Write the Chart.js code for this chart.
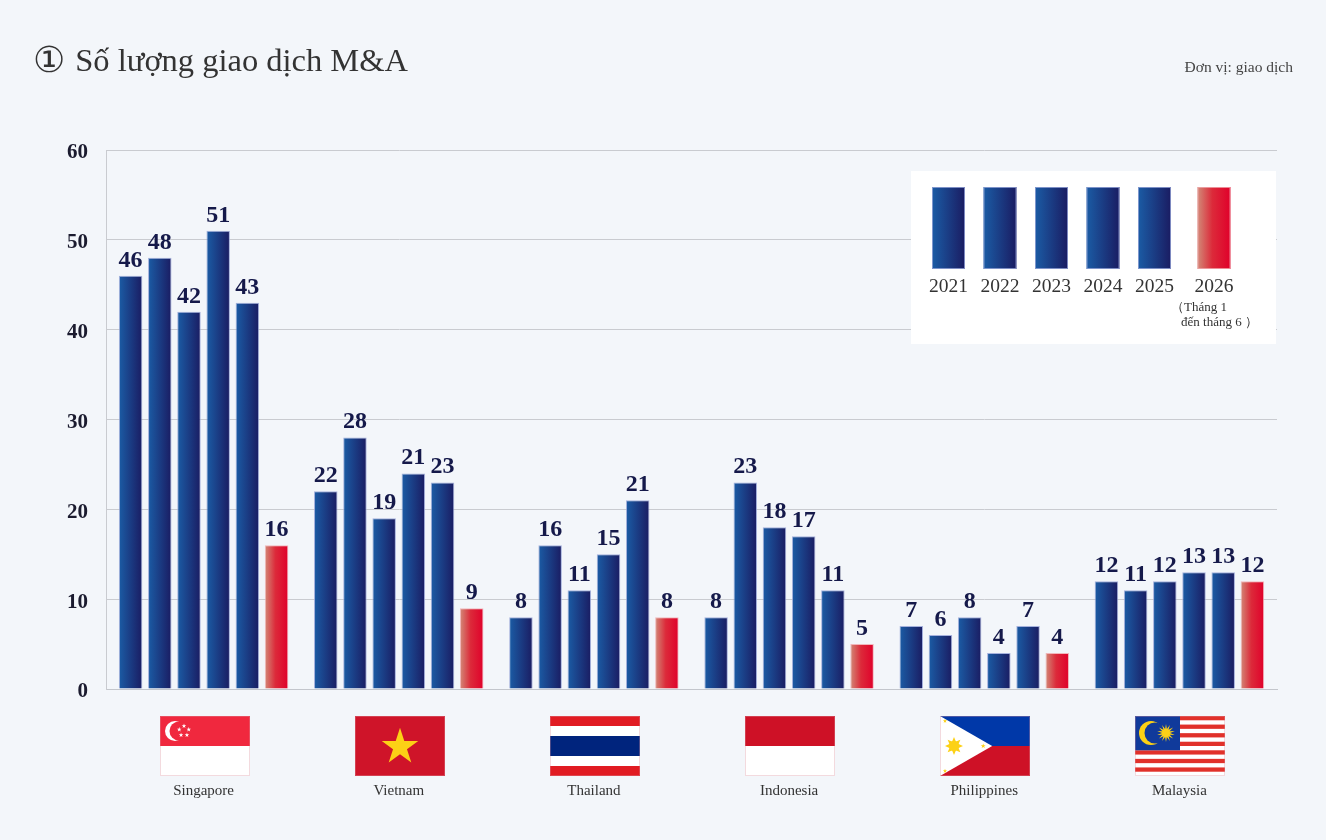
<!DOCTYPE html>
<html lang="vi">
<head>
  <meta charset="UTF-8">
  <title>Số lượng giao dịch M&amp;A</title>
  <script src="https://cdn.jsdelivr.net/npm/chart.js"></script>
  <style>
    html, body { margin: 0; padding: 0; background: #f3f6fa; }
    #wrap { position: relative; width: 1326px; height: 840px; }
    h1 {
      position: absolute; left: 33px; top: 43px; margin: 0;
      font: 400 32.5px/32px 'Liberation Serif', serif; color: #333;
      white-space: nowrap;
    }
    h1 .num {
      font-family: 'DejaVu Sans', sans-serif; font-size: 36px; margin-right: 10px;
      position: relative; top: 1px;
    }
    .unit {
      position: absolute; right: 33px; top: 59px;
      font: 15.5px/16px 'Liberation Serif', serif; color: #444;
    }
    canvas { position: absolute; left: 0; top: 0; }
  </style>
</head>
<body>
<div id="wrap">
  <canvas id="chart" width="1326" height="840"></canvas>
  <h1><span class="num">①</span>Số lượng giao dịch M&amp;A</h1>
  <div class="unit">Đơn vị: giao dịch</div>
</div>
<script>
  const countries = ['Singapore', 'Vietnam', 'Thailand', 'Indonesia', 'Philippines', 'Malaysia'];
  const years = ['2021', '2022', '2023', '2024', '2025', '2026'];
  const deals2021 = [46, 22, 8, 8, 7, 12];
  const deals2022 = [48, 28, 16, 23, 6, 11];
  const deals2023 = [42, 19, 11, 18, 8, 12];
  const deals2024 = [51, 24, 15, 17, 4, 13];
  const deals2025 = [43, 23, 21, 11, 7, 13];
  const deals2026 = [16, 9, 8, 5, 4, 12];
  // in the source the Vietnam 2024 bar stands at 24 but is printed as 21
  const printedOverrides = [{ year: '2024', country: 'Vietnam', text: '21' }];
  const yTicks = [0, 10, 20, 30, 40, 50, 60];
  const partialNote = ['（Tháng 1', 'đến tháng 6 ）'];

  const SERIF = "'Liberation Serif', 'DejaVu Serif', serif";

  // horizontal gradient on every bar, computed once bars have their positions
  const gradientBars = {
    id: 'gradientBars',
    beforeDatasetsDraw(chart) {
      const ctx = chart.ctx;
      const last = chart.data.datasets.length - 1;
      chart.data.datasets.forEach((ds, i) => {
        chart.getDatasetMeta(i).data.forEach(bar => {
          const left = bar.x - bar.width / 2;
          const g = ctx.createLinearGradient(left, 0, left + bar.width, 0);
          if (i === last) {
            g.addColorStop(0, '#d28a78');
            g.addColorStop(0.45, '#dc2a3a');
            g.addColorStop(1, '#e0002a');
          } else {
            g.addColorStop(0, '#1b5ca5');
            g.addColorStop(1, '#1a1c62');
          }
          bar.options = Object.assign({}, bar.options, { backgroundColor: g });
        });
      });
    }
  };

  const valueLabels = {
    id: 'valueLabels',
    afterDatasetsDraw(chart) {
      const ctx = chart.ctx;
      ctx.save();
      ctx.font = 'bold 24px ' + SERIF;
      ctx.fillStyle = '#15194a';
      ctx.textAlign = 'center';
      ctx.textBaseline = 'alphabetic';
      chart.data.datasets.forEach((ds, i) => {
        chart.getDatasetMeta(i).data.forEach((bar, j) => {
          const fix = printedOverrides.find(o => o.year === ds.label && o.country === chart.data.labels[j]);
          ctx.fillText(fix ? fix.text : String(ds.data[j]), bar.x, bar.y - 9);
        });
      });
      ctx.restore();
    }
  };

  const legendBox = {
    id: 'legendBox',
    afterDraw(chart) {
      const ctx = chart.ctx;
      const last = chart.data.datasets.length - 1;
      ctx.save();
      ctx.fillStyle = '#ffffff';
      ctx.fillRect(911, 171, 365, 173);
      chart.data.datasets.forEach((ds, i) => {
        const x = 932 + i * 51.5 + (i === last ? 8 : 0);
        const g = ctx.createLinearGradient(x, 0, x + 33, 0);
        if (i === last) {
          g.addColorStop(0, '#d28a78'); g.addColorStop(0.45, '#dc2a3a'); g.addColorStop(1, '#e0002a');
        } else {
          g.addColorStop(0, '#1b5ca5'); g.addColorStop(1, '#1a1c62');
        }
        ctx.fillStyle = g;
        ctx.fillRect(x, 187, 33, 82);
        ctx.strokeStyle = i === last ? 'rgba(240,170,175,0.8)' : 'rgba(150,165,215,0.8)';
        ctx.lineWidth = 1;
        ctx.strokeRect(x + 0.5, 187.5, 32, 81);
        ctx.fillStyle = '#333';
        ctx.font = '19.5px ' + SERIF;
        ctx.textAlign = 'center';
        ctx.fillText(ds.label, x + 16.5, 292);
        if (i === last) {
          ctx.font = '13px ' + SERIF;
          ctx.textAlign = 'left';
          ctx.fillText(partialNote[0], 1171, 311);
          ctx.fillText(partialNote[1], 1181, 326);
        }
      });
      ctx.restore();
    }
  };

  function star(ctx, cx, cy, r, rot, points, inner) {
    ctx.beginPath();
    for (let k = 0; k < points * 2; k++) {
      const rr = k % 2 === 0 ? r : r * inner;
      const a = rot + k * Math.PI / points;
      ctx.lineTo(cx + rr * Math.sin(a), cy - rr * Math.cos(a));
    }
    ctx.closePath();
    ctx.fill();
  }

  const flagPainters = {
    Singapore(ctx, x, y, w, h) {
      ctx.fillStyle = '#ffffff'; ctx.fillRect(x, y, w, h);
      ctx.fillStyle = '#f0283e'; ctx.fillRect(x, y, w, h / 2);
      ctx.fillStyle = '#ffffff';
      ctx.beginPath(); ctx.arc(x + 15, y + 15, 10, 0, Math.PI * 2); ctx.fill();
      ctx.fillStyle = '#f0283e';
      ctx.beginPath(); ctx.arc(x + 19, y + 15, 9.5, 0, Math.PI * 2); ctx.fill();
      ctx.fillStyle = '#ffffff';
      for (let k = 0; k < 5; k++) {
        const a = k * 2 * Math.PI / 5;
        star(ctx, x + 24 + 5 * Math.sin(a), y + 15 - 5 * Math.cos(a), 2.4, 0, 5, 0.4);
      }
    },
    Vietnam(ctx, x, y, w, h) {
      ctx.fillStyle = '#cf1429'; ctx.fillRect(x, y, w, h);
      ctx.fillStyle = '#fcd116';
      star(ctx, x + w / 2, y + h / 2 + 1, h * 0.32, 0, 5, 0.382);
    },
    Thailand(ctx, x, y, w, h) {
      const s = h / 6;
      ctx.fillStyle = '#e11b22'; ctx.fillRect(x, y, w, h);
      ctx.fillStyle = '#ffffff'; ctx.fillRect(x, y + s, w, s * 4);
      ctx.fillStyle = '#00247d'; ctx.fillRect(x, y + s * 2, w, s * 2);
    },
    Indonesia(ctx, x, y, w, h) {
      ctx.fillStyle = '#ffffff'; ctx.fillRect(x, y, w, h);
      ctx.fillStyle = '#ce1126'; ctx.fillRect(x, y, w, h / 2);
    },
    Philippines(ctx, x, y, w, h) {
      ctx.fillStyle = '#0038a8'; ctx.fillRect(x, y, w, h / 2);
      ctx.fillStyle = '#ce1126'; ctx.fillRect(x, y + h / 2, w, h / 2);
      const tx = h * 0.87;
      ctx.fillStyle = '#ffffff';
      ctx.beginPath(); ctx.moveTo(x, y); ctx.lineTo(x + tx, y + h / 2); ctx.lineTo(x, y + h); ctx.closePath(); ctx.fill();
      ctx.fillStyle = '#fcd116';
      star(ctx, x + 14, y + h / 2, 9, 0, 8, 0.55);
      ctx.beginPath(); ctx.arc(x + 14, y + h / 2, 5, 0, Math.PI * 2); ctx.fill();
      star(ctx, x + tx - 9, y + h / 2, 2.6, 0, 5, 0.4);
      star(ctx, x + 5, y + 5, 2.2, 0, 5, 0.4);
      star(ctx, x + 5, y + h - 5, 2.2, 0, 5, 0.4);
    },
    Malaysia(ctx, x, y, w, h) {
      const s = h / 14;
      ctx.fillStyle = '#ffffff'; ctx.fillRect(x, y, w, h);
      ctx.fillStyle = '#e1312a';
      for (let k = 0; k < 14; k += 2) ctx.fillRect(x, y + k * s, w, s);
      ctx.fillStyle = '#103a9b'; ctx.fillRect(x, y, w / 2, s * 8);
      ctx.fillStyle = '#fcd116';
      ctx.beginPath(); ctx.arc(x + 16, y + 17, 12, 0, Math.PI * 2); ctx.fill();
      ctx.fillStyle = '#103a9b';
      ctx.beginPath(); ctx.arc(x + 20, y + 17, 10.5, 0, Math.PI * 2); ctx.fill();
      ctx.fillStyle = '#fcd116';
      star(ctx, x + 31, y + 17, 9, 0, 14, 0.45);
    }
  };

  const flags = {
    id: 'flags',
    afterDraw(chart) {
      const ctx = chart.ctx;
      const xs = chart.scales.x;
      const w = 90, h = 60, top = 716;
      ctx.save();
      chart.data.labels.forEach((name, i) => {
        const cx = xs.getPixelForValue(i) + 1;
        const x = Math.round(cx - w / 2);
        flagPainters[name](ctx, x, top, w, h);
        ctx.strokeStyle = 'rgba(220,150,160,0.35)';
        ctx.lineWidth = 1;
        ctx.strokeRect(x + 0.5, top + 0.5, w - 1, h - 1);
      });
      ctx.restore();
    }
  };

  const series = [deals2021, deals2022, deals2023, deals2024, deals2025, deals2026];

  new Chart(document.getElementById('chart'), {
    type: 'bar',
    data: {
      labels: countries,
      datasets: years.map((y, i) => ({
        label: y,
        data: series[i],
        backgroundColor: i === years.length - 1 ? '#e0002a' : '#1a3a86',
        borderColor: i === years.length - 1 ? 'rgba(240,170,175,0.85)' : 'rgba(150,165,215,0.85)',
        borderWidth: 1,
        categoryPercentage: 0.8975,
        barPercentage: 0.805
      }))
    },
    options: {
      responsive: false,
      animation: false,
      devicePixelRatio: 1,
      layout: { padding: { left: 0, right: 49, top: 150, bottom: 0 } },
      plugins: {
        legend: { display: false },
        tooltip: { enabled: false },
        title: { display: false }
      },
      scales: {
        x: {
          grid: { display: false, drawTicks: false },
          border: { display: true, color: '#c3c6cc', width: 1 },
          ticks: { color: '#333', font: { family: SERIF, size: 15 }, padding: 93 },
          afterFit(scale) { scale.height = 151; }
        },
        y: {
          min: 0,
          max: 60,
          afterBuildTicks(scale) { scale.ticks = yTicks.map(v => ({ value: v })); },
          grid: { color: '#c9cbd0', lineWidth: 1, drawTicks: false },
          border: { display: true, color: '#c9cbd0', width: 1 },
          ticks: { color: '#1b1b2f', font: { family: SERIF, size: 21, weight: 'bold' }, padding: 18, labelOffset: 3 },
          afterFit(scale) { scale.width = 106; }
        }
      }
    },
    plugins: [gradientBars, valueLabels, legendBox, flags]
  });
</script>
</body>
</html>
